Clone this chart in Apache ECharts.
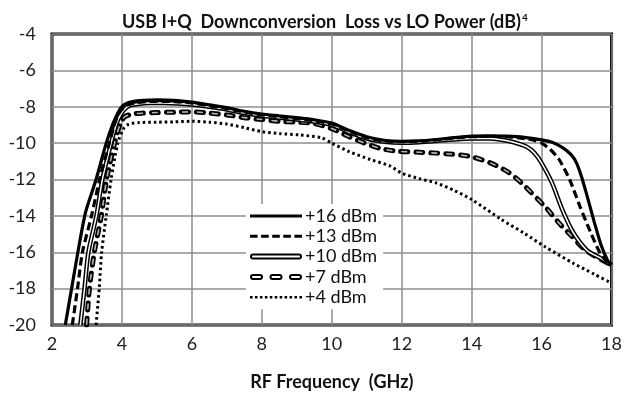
<!DOCTYPE html>
<html>
<head>
<meta charset="utf-8">
<script src="https://cdn.jsdelivr.net/npm/echarts@6/dist/echarts.min.js"></script>
<style>
  html, body { margin: 0; padding: 0; background: #fff; }
  #chart { width: 625px; height: 396px; }
</style>
</head>
<body>
<div id="chart"></div>
<script>
// Downconversion loss (dB) against RF frequency (GHz), one curve per LO drive level.
const seriesNames = ['+16 dBm', '+13 dBm', '+10 dBm', '+7 dBm', '+4 dBm'];

const freq16 = [2.38, 2.56, 2.74, 2.96, 3.26, 3.55, 3.75, 3.88, 3.97, 4.10, 4.30, 4.60, 5.00, 5.50, 6.00, 6.50, 7.00, 7.50, 8.00, 8.50, 9.00, 9.50, 10.00, 10.50, 11.00, 11.50, 12.00, 12.50, 13.00, 13.50, 14.00, 14.50, 15.00, 15.50, 16.00, 16.30, 16.60, 16.85, 17.00, 17.15, 17.30, 17.50, 17.70, 17.90, 18.00];
const loss16 = [-20, -18, -16, -13.8, -12.0, -10.0, -8.9, -8.35, -8.05, -7.85, -7.72, -7.65, -7.62, -7.65, -7.75, -7.9, -8.05, -8.25, -8.4, -8.5, -8.6, -8.72, -8.9, -9.3, -9.65, -9.85, -9.9, -9.88, -9.8, -9.7, -9.62, -9.6, -9.62, -9.68, -9.82, -9.95, -10.25, -10.65, -11.1, -11.9, -12.9, -14.3, -15.6, -16.5, -16.7];

const freq13 = [2.58, 2.73, 2.87, 3.13, 3.36, 3.64, 3.80, 3.92, 4.02, 4.15, 4.40, 4.70, 5.00, 5.50, 6.00, 6.50, 7.00, 7.50, 8.00, 8.50, 9.00, 9.50, 10.00, 10.50, 11.00, 11.50, 12.00, 12.50, 13.00, 13.50, 14.00, 14.50, 15.00, 15.50, 15.80, 16.00, 16.25, 16.50, 16.80, 17.10, 17.40, 17.66, 17.85, 18.00];
const loss13 = [-20, -18, -16, -14.0, -12.0, -10.0, -8.9, -8.35, -8.1, -7.9, -7.78, -7.72, -7.7, -7.72, -7.8, -7.95, -8.1, -8.3, -8.45, -8.55, -8.65, -8.78, -8.95, -9.35, -9.7, -9.88, -9.92, -9.9, -9.82, -9.72, -9.65, -9.63, -9.65, -9.75, -9.85, -10.0, -10.35, -10.9, -12.0, -13.5, -14.9, -16.0, -16.5, -16.7];

const freq10 = [2.81, 2.93, 3.04, 3.27, 3.44, 3.69, 3.85, 3.97, 4.07, 4.20, 4.45, 4.80, 5.20, 5.60, 6.00, 6.50, 7.00, 7.50, 8.00, 8.50, 9.00, 9.50, 10.00, 10.50, 11.00, 11.50, 12.00, 12.50, 13.00, 13.50, 14.00, 14.50, 14.80, 15.20, 15.57, 15.80, 16.00, 16.30, 16.60, 16.90, 17.30, 17.66, 18.00];
const loss10 = [-20, -18, -16, -14.0, -12.0, -10.0, -8.9, -8.4, -8.15, -7.95, -7.85, -7.8, -7.8, -7.82, -7.88, -8.0, -8.15, -8.35, -8.5, -8.6, -8.7, -8.82, -9.0, -9.4, -9.75, -9.92, -9.98, -9.95, -9.88, -9.8, -9.75, -9.75, -9.8, -9.95, -10.2, -10.55, -11.1, -12.2, -13.7, -14.9, -15.9, -16.3, -16.7];

const freq7 = [2.99, 3.07, 3.21, 3.41, 3.56, 3.79, 3.94, 4.08, 4.30, 4.60, 5.00, 5.50, 6.00, 6.50, 7.00, 7.50, 8.00, 8.50, 9.00, 9.45, 10.00, 10.50, 10.90, 11.40, 11.90, 12.50, 13.00, 13.40, 14.00, 14.55, 15.05, 15.43, 16.10, 16.50, 16.85, 17.20, 17.70, 18.00];
const loss7 = [-20, -18, -16, -14, -12, -10, -9.0, -8.55, -8.4, -8.35, -8.32, -8.3, -8.28, -8.35, -8.45, -8.6, -8.7, -8.8, -8.85, -8.9, -9.2, -9.65, -9.97, -10.3, -10.45, -10.5, -10.55, -10.6, -10.75, -11.1, -11.6, -12.2, -13.5, -14.4, -15.1, -15.8, -16.4, -16.7];

const freq4 = [3.26, 3.35, 3.42, 3.55, 3.69, 3.88, 4.05, 4.20, 4.50, 5.00, 5.50, 6.00, 6.50, 7.00, 7.50, 8.00, 8.50, 9.07, 9.70, 10.00, 10.50, 11.10, 11.66, 12.00, 12.50, 13.00, 13.50, 14.00, 14.85, 15.50, 16.10, 16.90, 17.50, 18.00];
const loss4 = [-20, -18, -16, -14, -12, -10, -9.2, -8.95, -8.87, -8.85, -8.83, -8.8, -8.85, -8.95, -9.15, -9.37, -9.47, -9.55, -9.7, -10.0, -10.47, -10.9, -11.25, -11.65, -11.95, -12.2, -12.6, -13.1, -14.2, -14.95, -15.7, -16.6, -17.2, -17.7];

const xTicks = [2, 4, 6, 8, 10, 12, 14, 16, 18];
const yTicks = [-20, -18, -16, -14, -12, -10, -8, -6, -4];

const pairs = (xs, ys) => xs.map((x, i) => [x, ys[i]]);
const FONT = 'Lato, "Open Sans", sans-serif';

// Legend swatches drawn as filled paths, 52 units wide
function capsule(x0, len) {
  const a = x0 + 3, b = x0 + len - 3;
  return `M${a},0 H${b} A3,3 0 0 1 ${b},6 H${a} A3,3 0 0 1 ${a},0 Z ` +
         `M${a},2 A1,1 0 0 0 ${a},4 H${b} A1,1 0 0 0 ${b},2 Z `;
}
function dashes(count, len, gap, h) {
  let d = '';
  for (let i = 0; i < count; i++) {
    const x = i * (len + gap);
    d += `M${x},0 H${x + len} V${h} H${x} Z `;
  }
  return d;
}
const iconSolid = 'path://M0,0 H52 V3.2 H0 Z';
const iconDashed = 'path://' + dashes(5, 7.6, 3.5, 3);
const iconHollow = 'path://' + capsule(0, 52);
const iconCapsules = 'path://' + capsule(0, 13) + capsule(19.5, 13) + capsule(39, 13);
const iconDotted = 'path://' + dashes(11, 2.6, 2.34, 2.6);

const chart = echarts.init(document.getElementById('chart'), null, { renderer: 'canvas' });

const baseLine = { type: 'line', showSymbol: false, symbol: 'none', smooth: 0.25, color: '#000' };

chart.setOption({
  animation: false,
  backgroundColor: '#fff',
  title: {
    text: '{t|USB I+Q  Downconversion  Loss vs LO Power (dB)}{s|4}',
    left: 117,
    top: 8,
    textStyle: {
      rich: {
        t: { fontFamily: FONT, fontWeight: 'bold', fontSize: 18, color: '#111' },
        s: { fontFamily: FONT, fontWeight: 'bold', fontSize: 10, color: '#111', verticalAlign: 'top', padding: [0, 0, 8, 1] }
      }
    }
  },
  grid: {
    left: 52, right: 13, top: 34, bottom: 71,
    show: true, borderColor: '#000', borderWidth: 3
  },
  xAxis: {
    type: 'value', min: 2, max: 18, interval: 2,
    name: 'RF Frequency  (GHz)', nameLocation: 'middle', nameGap: 48,
    nameTextStyle: { fontFamily: FONT, fontWeight: 'bold', fontSize: 18, color: '#111' },
    axisLine: { show: false }, axisTick: { show: false },
    axisLabel: {
      fontFamily: FONT, fontSize: 18, color: '#222', margin: 10,
      formatter: v => (xTicks.includes(v) ? String(v) : '')
    },
    splitLine: { show: true, lineStyle: { color: '#8e8e8e', width: 1.5 } }
  },
  yAxis: {
    type: 'value', min: -20, max: -4, interval: 2,
    axisLine: { show: false }, axisTick: { show: false },
    axisLabel: {
      fontFamily: FONT, fontSize: 18, color: '#222', margin: 16,
      formatter: v => (yTicks.includes(v) ? String(v) : '')
    },
    splitLine: { show: true, lineStyle: { color: '#8e8e8e', width: 1.5 } }
  },
  legend: {
    orient: 'vertical',
    left: 246, top: 204,
    itemWidth: 52, itemHeight: 14, itemGap: 2.3,
    padding: [3, 6, 3, 4],
    backgroundColor: '#fff',
    textStyle: { fontFamily: FONT, fontSize: 18, lineHeight: 18, color: '#111', padding: [0, 0, 0, -2] },
    data: [
      { name: seriesNames[0], icon: iconSolid },
      { name: seriesNames[1], icon: iconDashed },
      { name: seriesNames[2], icon: iconHollow },
      { name: seriesNames[3], icon: iconCapsules },
      { name: seriesNames[4], icon: iconDotted }
    ]
  },
  series: [
    Object.assign({}, baseLine, {
      name: seriesNames[4], data: pairs(freq4, loss4), z: 2,
      lineStyle: { color: '#000', width: 3, type: [2.5, 3] }
    }),
    Object.assign({}, baseLine, {
      name: seriesNames[3], data: pairs(freq7, loss7), z: 3,
      lineStyle: { color: '#000', width: 5, type: [7, 8], cap: 'round' }
    }),
    Object.assign({}, baseLine, {
      name: seriesNames[3] + ' ', data: pairs(freq7, loss7), z: 3,
      lineStyle: { color: '#b5b5b5', width: 1.6, type: [6, 9], dashOffset: -0.5, cap: 'butt' }
    }),
    Object.assign({}, baseLine, {
      name: seriesNames[2], data: pairs(freq10, loss10), z: 4,
      lineStyle: { color: '#000', width: 4.5 }
    }),
    Object.assign({}, baseLine, {
      name: seriesNames[2] + ' ', data: pairs(freq10, loss10), z: 4,
      lineStyle: { color: '#fff', width: 1.5 }
    }),
    Object.assign({}, baseLine, {
      name: seriesNames[1], data: pairs(freq13, loss13), z: 5,
      lineStyle: { color: '#000', width: 3.2, type: [8, 4] }
    }),
    Object.assign({}, baseLine, {
      name: seriesNames[0], data: pairs(freq16, loss16), z: 6,
      lineStyle: { color: '#000', width: 3.2 }
    })
  ]
});
</script>
</body>
</html>
